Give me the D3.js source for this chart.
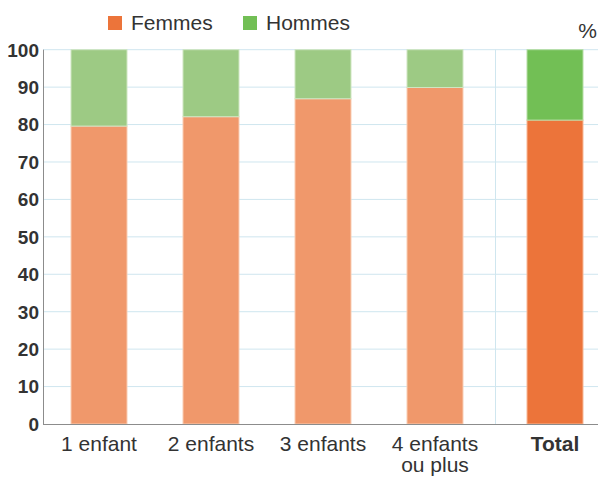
<!DOCTYPE html>
<html>
<head>
<meta charset="utf-8">
<script src="https://cdn.jsdelivr.net/npm/d3@7"></script>
<style>
  body { margin: 0; background: #fff; }
  svg { display: block; font-family: "Liberation Sans", Arial, sans-serif; }
</style>
</head>
<body>
<svg id="chart"></svg>
<script>
// Data
const categories = ['1 enfant', '2 enfants', '3 enfants', '4 enfants ou plus'];
const femmes = [79.6, 82.1, 86.9, 89.9];
const hommes = femmes.map(v => 100 - v);
const totalLabel = 'Total';
const totalFemmes = 81.2;
const totalHommes = 100 - totalFemmes;
const yTicks = [0, 10, 20, 30, 40, 50, 60, 70, 80, 90, 100];
const seriesNames = ['Femmes', 'Hommes'];

const w = 598, h = 477;
const plotLeft = 43, plotRight = 598, plotTop = 49.7, plotBottom = 424;

const svg = d3.select('#chart').attr('width', w).attr('height', h);

const y = d3.scaleLinear().domain([0, 100]).range([plotBottom, plotTop]);

// the four categories, then Total in its own band after the separator
const x = d3.scaleBand().domain(categories).range([plotLeft, 491])
  .paddingInner(0.5).paddingOuter(0.25);
const xTotal = d3.scaleBand().domain([totalLabel]).range([499, 611])
  .paddingInner(0.5).paddingOuter(0.25);

// grid
svg.append('g')
  .selectAll('line')
  .data(yTicks.slice(1))
  .enter()
  .append('line')
  .attr('x1', plotLeft).attr('x2', plotRight)
  .attr('y1', d => y(d)).attr('y2', d => y(d))
  .attr('stroke', '#cfe6ef').attr('stroke-width', 1);

svg.append('line')
  .attr('x1', 495.5).attr('x2', 495.5)
  .attr('y1', y(100)).attr('y2', y(0))
  .attr('stroke', '#cfe6ef').attr('stroke-width', 1);

// bars
const barData = categories.map((c, i) => ({ c, f: femmes[i], m: hommes[i] }));

const g = svg.append('g');
g.selectAll('rect.f')
  .data(barData)
  .enter()
  .append('rect')
  .attr('x', d => x(d.c))
  .attr('width', x.bandwidth())
  .attr('y', d => y(d.f))
  .attr('height', d => y(0) - y(d.f))
  .attr('fill', '#f0986b')
  .attr('stroke', '#f9cdb4').attr('stroke-width', 1);

g.selectAll('rect.m')
  .data(barData)
  .enter()
  .append('rect')
  .attr('x', d => x(d.c))
  .attr('width', x.bandwidth())
  .attr('y', d => y(d.f + d.m))
  .attr('height', d => y(d.f) - y(d.f + d.m))
  .attr('fill', '#9dca84')
  .attr('stroke', '#cfe6c2').attr('stroke-width', 1);

g.append('rect')
  .attr('x', xTotal(totalLabel))
  .attr('width', xTotal.bandwidth())
  .attr('y', y(totalFemmes))
  .attr('height', y(0) - y(totalFemmes))
  .attr('fill', '#ec743a')
  .attr('stroke', '#f7b896').attr('stroke-width', 1);

g.append('rect')
  .attr('x', xTotal(totalLabel))
  .attr('width', xTotal.bandwidth())
  .attr('y', y(totalFemmes + totalHommes))
  .attr('height', y(totalFemmes) - y(totalFemmes + totalHommes))
  .attr('fill', '#72bf55')
  .attr('stroke', '#b6dea6').attr('stroke-width', 1);

// axes lines
svg.append('line')
  .attr('x1', plotLeft + 0.5).attr('x2', plotLeft + 0.5)
  .attr('y1', y(100)).attr('y2', y(0))
  .attr('stroke', '#8c8c8c');
svg.append('line')
  .attr('x1', plotLeft).attr('x2', plotRight)
  .attr('y1', y(0) + 0.5).attr('y2', y(0) + 0.5)
  .attr('stroke', '#8c8c8c');

// y labels
svg.append('g')
  .selectAll('text')
  .data(yTicks)
  .enter()
  .append('text')
  .attr('x', 39)
  .attr('y', d => y(d))
  .attr('dy', '0.36em')
  .attr('text-anchor', 'end')
  .attr('font-size', 19)
  .attr('font-weight', 'bold')
  .attr('fill', '#333')
  .text(d => d);

// x labels
const xl = svg.append('g');
barData.forEach(d => {
  const cx = x(d.c) + x.bandwidth() / 2;
  const lines = d.c === '4 enfants ou plus' ? ['4 enfants', 'ou plus'] : [d.c];
  lines.forEach((t, i) => {
    xl.append('text')
      .attr('x', cx)
      .attr('y', 451 + i * 21)
      .attr('text-anchor', 'middle')
      .attr('font-size', 21)
      .attr('fill', '#333')
      .text(t);
  });
});
xl.append('text')
  .attr('x', xTotal(totalLabel) + xTotal.bandwidth() / 2)
  .attr('y', 451)
  .attr('text-anchor', 'middle')
  .attr('font-size', 21)
  .attr('font-weight', 'bold')
  .attr('fill', '#333')
  .text(totalLabel);

// legend
const legendColors = ['#ec743a', '#72bf55'];
const legendX = [108, 243];
const legend = svg.append('g');
seriesNames.forEach((s, i) => {
  legend.append('rect')
    .attr('x', legendX[i]).attr('y', 16)
    .attr('width', 14).attr('height', 14)
    .attr('fill', legendColors[i]);
  legend.append('text')
    .attr('x', legendX[i] + 23).attr('y', 30)
    .attr('font-size', 21)
    .attr('fill', '#333')
    .text(s);
});

svg.append('text')
  .attr('x', 597).attr('y', 38)
  .attr('text-anchor', 'end')
  .attr('font-size', 21)
  .attr('fill', '#333')
  .text('%');
</script>
</body>
</html>
